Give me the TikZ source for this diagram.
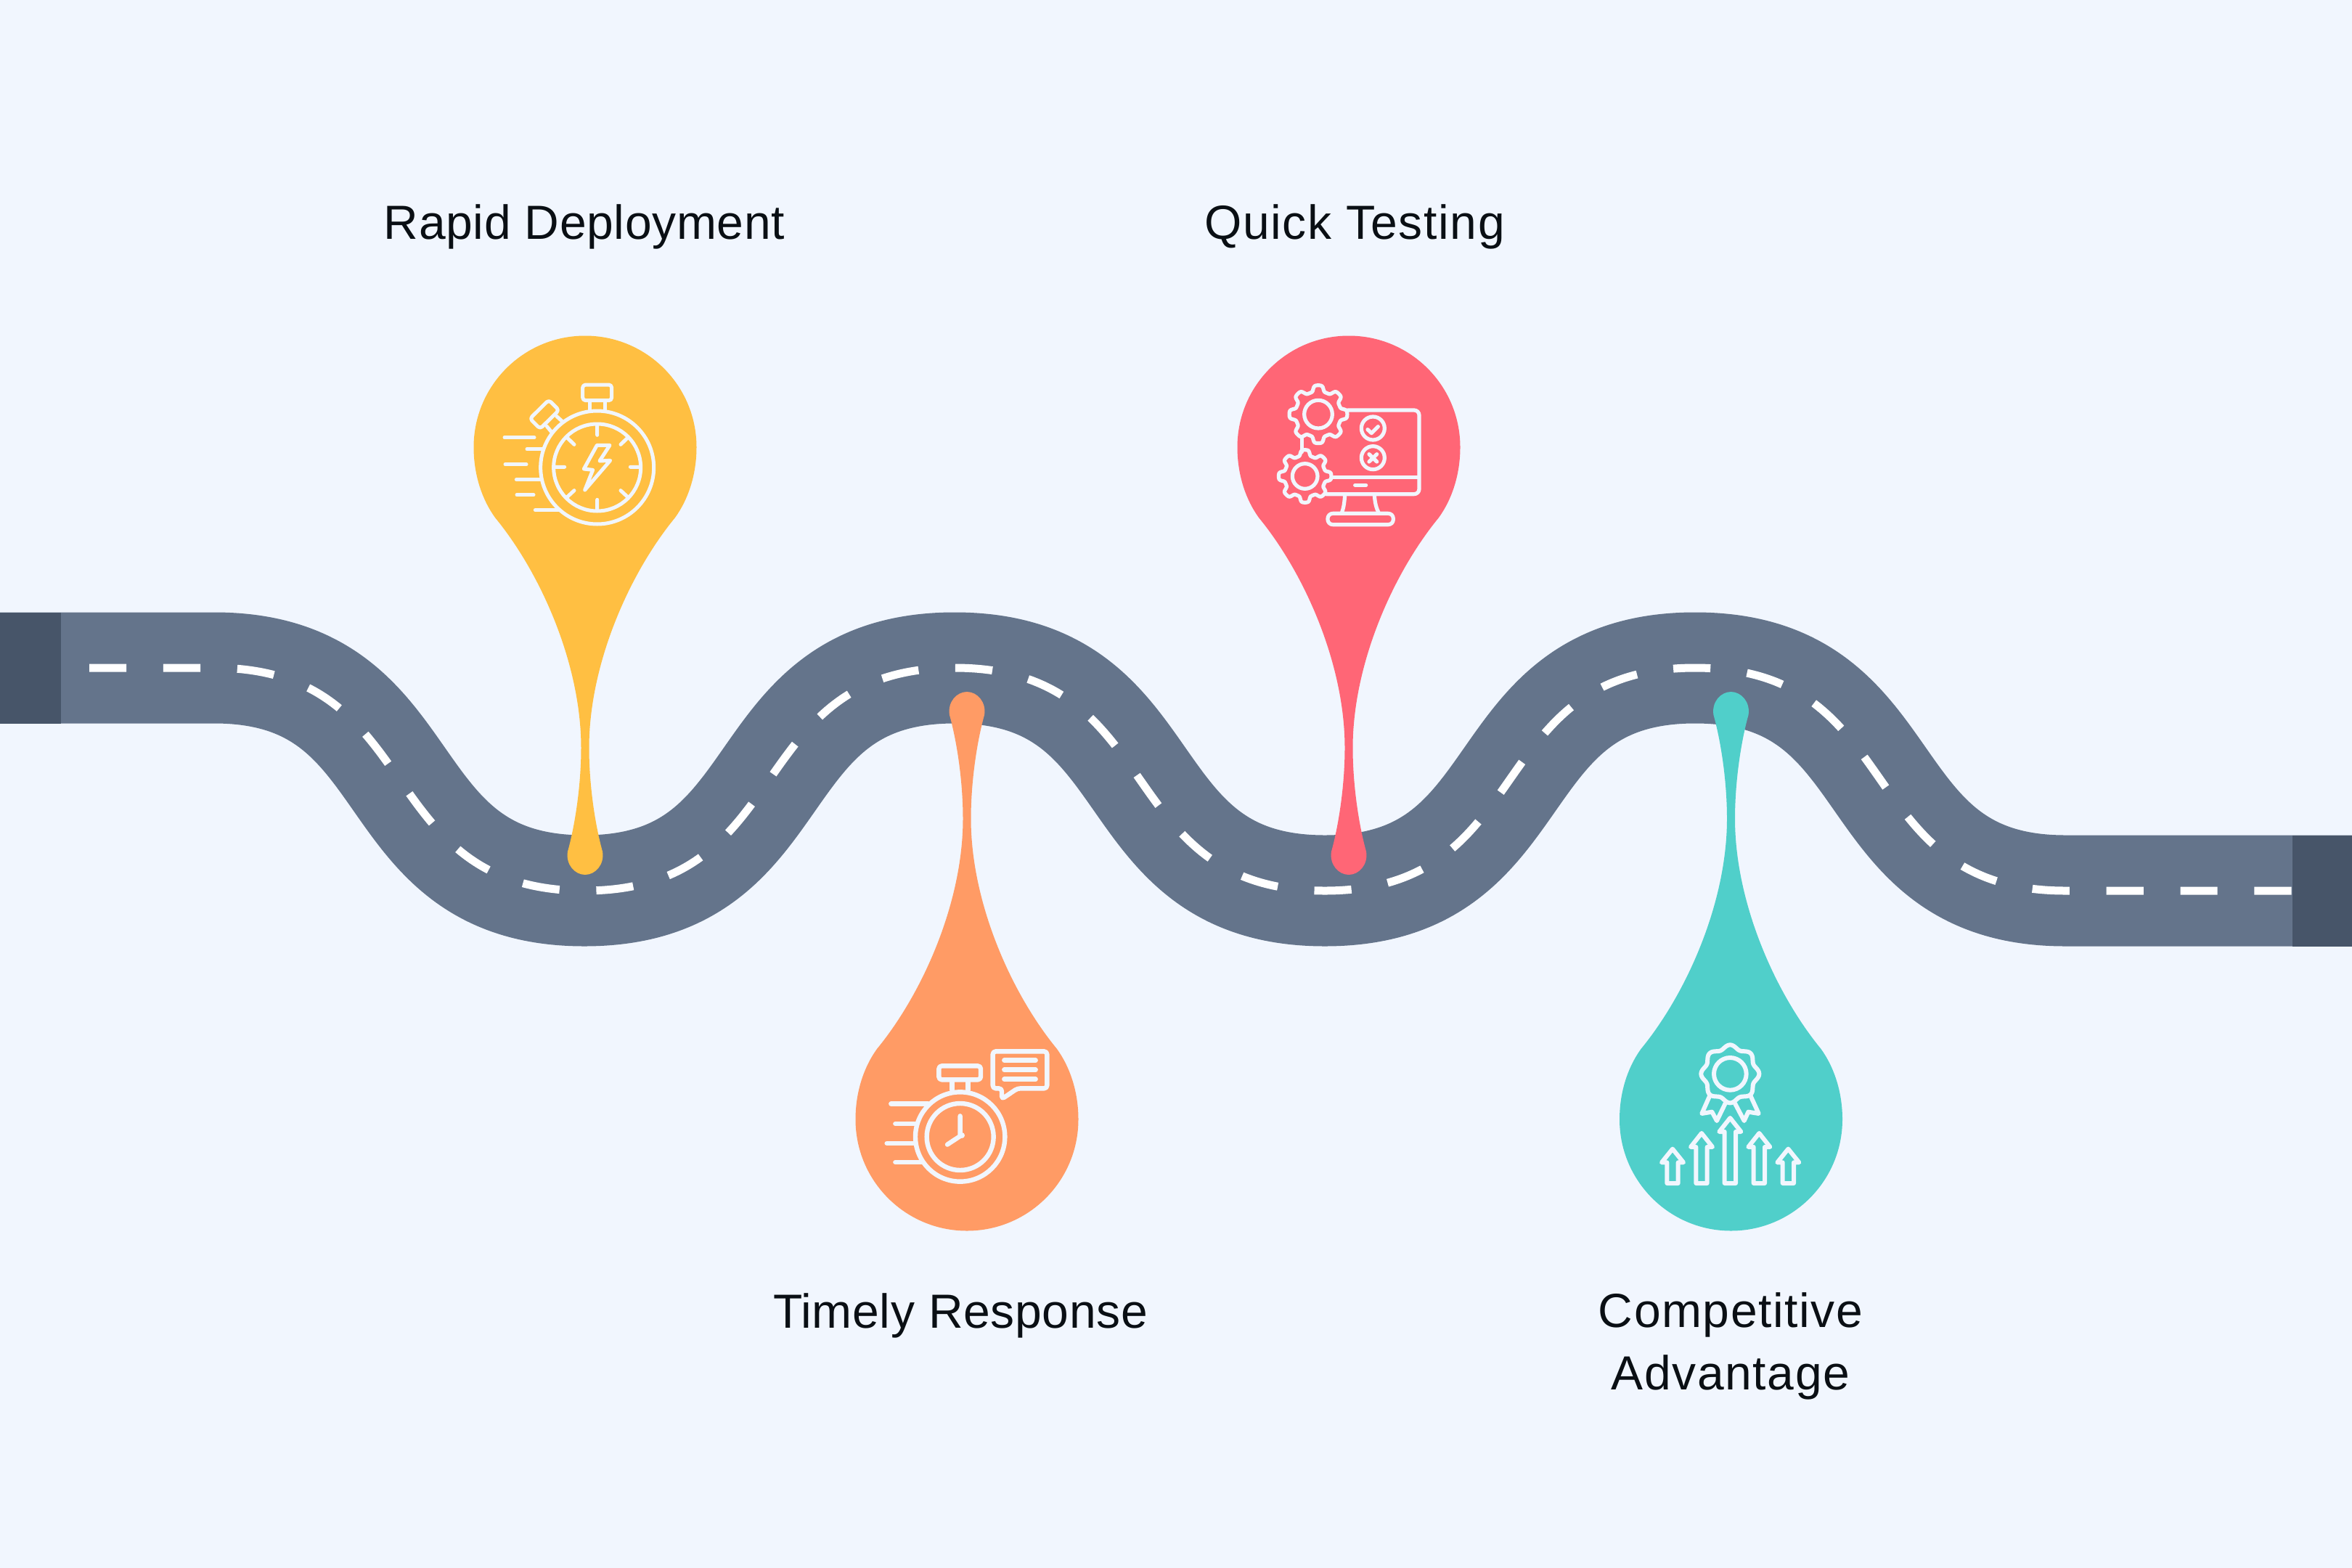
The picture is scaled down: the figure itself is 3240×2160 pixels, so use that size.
\documentclass[tikz,border=0pt]{standalone}
\usepackage{fontspec}
\setmainfont{Liberation Sans}[LetterSpace=1.0]
\newfontfamily\widesans{Liberation Sans}[LetterSpace=2.4]
\definecolor{bgc}{HTML}{F1F6FE}
\definecolor{roadc}{HTML}{64748B}
\definecolor{capc}{HTML}{475569}
\definecolor{ylw}{HTML}{FFBF42}
\definecolor{redc}{HTML}{FF6676}
\definecolor{org}{HTML}{FF9B65}
\definecolor{teal2}{HTML}{50CFCA}
\definecolor{txtc}{HTML}{0A0F14}
\tikzset{
  roadpath/.style={line width=153pt,roadc},
  lane/.style={line width=11pt,white,dash pattern=on 51.2pt off 50.74pt},
  capbox/.style={fill=capc,draw=none},
  pinshape/.style={draw=none},
  lbl/.style={text=txtc,font=\fontsize{66}{86}\selectfont,align=center,inner sep=0pt},
  lblwide/.style={text=txtc,font=\widesans\fontsize{66}{86}\selectfont,align=center,inner sep=0pt},
  ico/.style={draw=bgc,line width=#1,line cap=round,line join=round},
}
\newcommand{\pinpath}{
  (0,-153.5) .. controls (84.8,-153.5) and (153.5,-84.8) .. (153.5,0)
  .. controls (153.5,38) and (142,72) .. (124,97)
  .. controls (60,175) and (5.5,300) .. (5.5,414)
  .. controls (5.5,470) and (15,525) .. (24,557)
  .. controls (27,575) and (14,589) .. (0,589)
  .. controls (-14,589) and (-27,575) .. (-24,557)
  .. controls (-15,525) and (-5.5,470) .. (-5.5,414)
  .. controls (-5.5,300) and (-60,175) .. (-124,97)
  .. controls (-142,72) and (-153.5,38) .. (-153.5,0)
  .. controls (-153.5,-84.8) and (-84.8,-153.5) .. (0,-153.5) -- cycle}
\newcommand{\gearplot}[4]{% cx cy Rmid amp
  plot[domain=0:360,samples=193,smooth cycle] ({#1+(#3+#4*tanh(2.2*cos(8*\x)))*cos(\x)},{#2+(#3+#4*tanh(2.2*cos(8*\x)))*sin(\x)})}
\begin{document}
\begin{tikzpicture}[x=1pt,y=-1pt]
\useasboundingbox (0,0) rectangle (3240,2160);
\fill[bgc] (0,0) rectangle (3240,2160);
\coordinate (rs) at (0,920);
\coordinate (re) at (3240,1227);
% road
\def\roadcurve{
  .. controls (590,920) and (510,1227) .. (805,1227)
  .. controls (1100,1227) and (1020,920) .. (1315,920)
  .. controls (1610,920) and (1530,1227) .. (1825,1227)
  .. controls (2120,1227) and (2040,920) .. (2335,920)
  .. controls (2630,920) and (2550,1227) .. (2845,1227)}
\draw[roadpath] (rs) -- (295,920) \roadcurve -- (re);
\fill[capbox] (0,843.5) rectangle (84,996.5);
\fill[capbox] (3158,1150.5) rectangle (3240,1303.5);
\draw[lane] (123,920) -- (295,920) \roadcurve -- (3157,1227);
% pins
\fill[ylw,pinshape] [shift={(806,616)}] \pinpath;
\fill[redc,pinshape] [shift={(1858,616)}] \pinpath;
\fill[org,pinshape] [shift={(1332,1542)},yscale=-1] \pinpath;
\fill[teal2,pinshape] [shift={(2384.5,1542)},yscale=-1] \pinpath;
% labels
\node[lbl,anchor=base] (t1) at (805,329) {Rapid Deployment};
\node[lblwide,anchor=base] (t2) at (1866,329) {Quick Testing};
\node[lbl,anchor=base] (t3) at (1323,1829) {Timely Response};
\node[lblwide,anchor=north] (t4) at (2384,1780) {Competitive\\Advantage};
% icon 1
\begin{scope}[shift={(620,440)},x=0.33333pt,y=-0.33333pt,ico=5pt]
\draw (608,612) circle (234);
\draw (608,612) circle (180);
\draw (608,440)--(608,478) (608,745)--(608,785) (435,610)--(473,610) (745,610)--(782,610)
 (485,490)--(513,517) (733,490)--(705,517) (485,733)--(513,707) (733,733)--(705,707);
\draw (607,520)--(660,520)--(618,585)--(662,583)--(557,705)--(590,622)--(553,618)--cycle;
\draw[rounded corners=4pt] (548,270) rectangle (668,335);
\draw (578,335)--(578,378) (640,335)--(640,378);
\draw[rounded corners=4pt] (408,333)--(450,375)--(372,452)--(330,410)--cycle;
\draw (400,442)--(418,464) (440,400)--(462,420);
\draw (225,488)--(348,488) (318,536)--(380,536) (228,599)--(315,599)
 (274,662)--(375,662) (276,725)--(345,725) (352,788)--(452,788);
\end{scope}
% icon 2
\begin{scope}[shift={(1680,440)},x=0.33333pt,y=-0.33333pt,ico=5.2pt]
\draw \gearplot{408}{392}{107}{13};
\draw (408,392) circle (58);
\draw \gearplot{353}{648}{97}{12};
\draw (353,648) circle (52);
\draw[rounded corners=7pt] (530,375)--(825,375)--(825,722)--(440,722);
\draw (465,652)--(822,652) (560,685)--(605,685);
\draw (340,490)--(340,548);
\draw (518,725) .. controls (516,760) and (512,780) .. (505,800);
\draw (640,725) .. controls (642,760) and (648,780) .. (658,800);
\draw[rounded corners=7pt] (447,802) rectangle (718,848);
\draw (634,450) circle (48) (634,572) circle (48);
\draw (612,455)--(628,470)--(655,443);
\draw (618,557)--(650,588) (650,557)--(618,588);
\end{scope}
% icon 3
\begin{scope}[shift={(1190,1400)},x=0.33333pt,y=-0.33333pt,ico=6.4pt]
\draw (398,498) circle (185);
\draw (398,498) circle (138);
\draw (398,412)--(398,495)--(345,530);
\fill[bgc] (405,492) circle (12);
\draw[rounded corners=4pt] (310,205) rectangle (483,262);
\draw (365,262)--(365,305) (430,262)--(430,305);
\draw (112,362)--(265,362) (130,444)--(210,444) (95,525)--(205,525) (130,603)--(240,603);
\draw[rounded corners=4pt] (533,145)--(757,145)--(757,298)--(635,298)--(570,342)--(570,298)--(533,298)--cycle;
\draw (580,182)--(710,182) (580,221)--(710,221) (580,260)--(710,260);
\end{scope}
% icon 4
\begin{scope}[shift={(2230,1400)},x=0.33333pt,y=-0.33333pt,ico=6pt]
\draw plot[domain=0:360,samples=145,smooth cycle] ({460+(112+8*cos(8*\x))*cos(\x)},{238+(112+8*cos(8*\x))*sin(\x)});
\draw (460,238) circle (67);
\draw (375,330)--(343,402)--(385,395)--(405,432)--(440,360);
\draw (545,330)--(578,402)--(535,395)--(518,432)--(480,360);
\foreach \cx/\top/\sh in {460/420/477,342/483/540,580/483/540,222/548/604,700/548/604}{
  \draw (\cx-23,690)--(\cx-23,\sh)--(\cx-45,\sh)--(\cx,\top)--(\cx+45,\sh)--(\cx+23,\sh)--(\cx+23,690)--cycle;
}
\end{scope}
\end{tikzpicture}
\end{document}
